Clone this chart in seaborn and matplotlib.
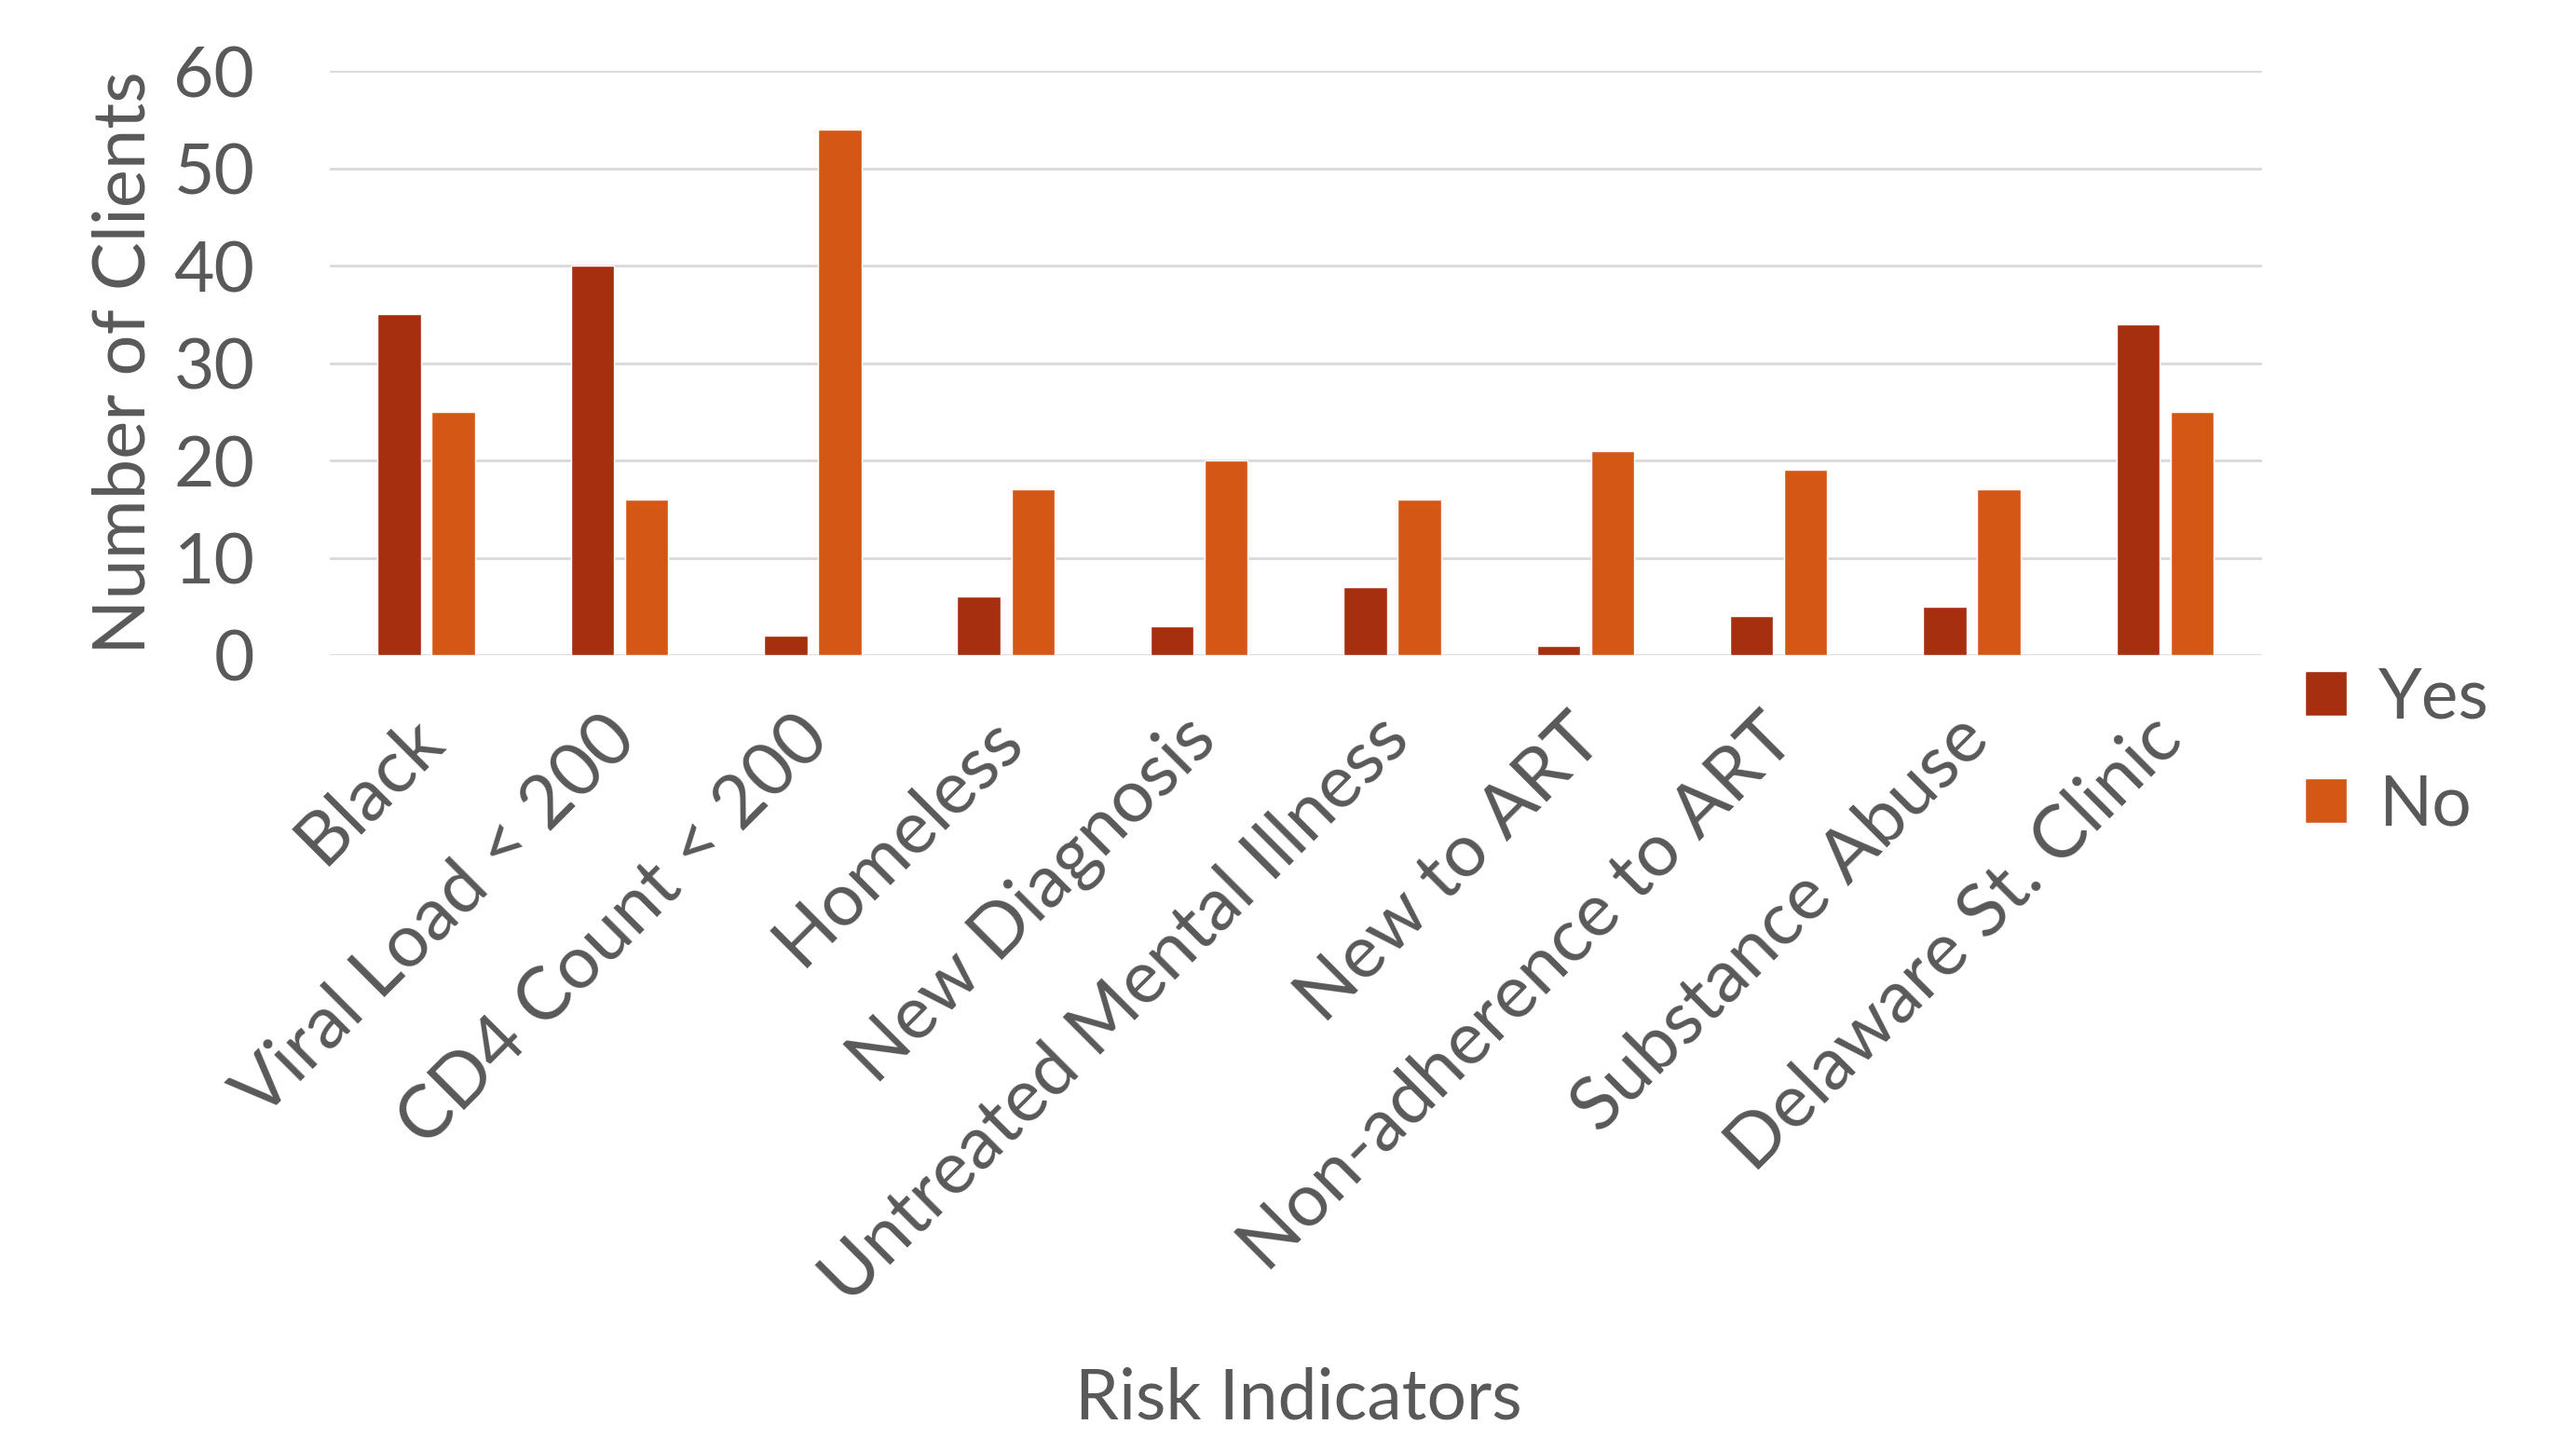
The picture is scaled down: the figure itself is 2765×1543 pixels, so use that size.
import matplotlib
matplotlib.use("Agg")
import matplotlib.pyplot as plt
import matplotlib.transforms as mtrans
import seaborn as sns
import pandas as pd

# risk indicator counts
categories = ["Black", "Viral Load < 200", "CD4 Count < 200", "Homeless", "New Diagnosis",
              "Untreated Mental Illness", "New to ART", "Non-adherence to ART",
              "Substance Abuse", "Delaware St. Clinic"]
yes_counts = [35, 40, 2, 6, 3, 7, 1, 4, 5, 34]
no_counts = [25, 16, 54, 17, 20, 16, 21, 19, 17, 25]
groups = ["Yes", "No"]

df = pd.DataFrame({
    "Risk": categories * 2,
    "Count": yes_counts + no_counts,
    "Group": ["Yes"] * len(categories) + ["No"] * len(categories),
})

sns.set_style("white")
plt.rcParams["font.family"] = ["Lato", "DejaVu Sans"]
grey = "#595959"

fig = plt.figure(figsize=(27.65, 15.43), dpi=100)
ax = fig.add_axes([0.128, 0.5444, 0.75, 0.4063])

sns.barplot(data=df, x="Risk", y="Count", hue="Group", hue_order=groups,
            palette=["#A62F10", "#D55716"], width=0.56, gap=0.2,
            saturation=1, ax=ax, legend=True)

ax.set_ylim(0, 60)
ax.set_xlim(-0.5, len(categories) - 0.5)
ax.set_yticks(range(0, 61, 10))
ax.grid(axis="y", color="#D9D9D9", linewidth=2)
ax.set_axisbelow(True)
for s in ax.spines.values():
    s.set_visible(False)

ax.tick_params(axis="y", length=0, pad=58, labelsize=54, labelcolor=grey)
ax.tick_params(axis="x", length=0, pad=38, labelsize=57, labelcolor=grey)
# nudge the slanted labels a little to the left
shift = mtrans.ScaledTranslation(-0.2, 0, fig.dpi_scale_trans)
for lbl in ax.get_xticklabels():
    lbl.set_rotation(45)
    lbl.set_ha("right")
    lbl.set_rotation_mode("anchor")
    lbl.set_transform(lbl.get_transform() + shift)

ax.set_ylabel("Number of Clients", fontsize=56, color=grey, labelpad=12)
ax.set_xlabel("")
fig.text(0.504, 0.027, "Risk Indicators", fontsize=54, color=grey, ha="center", va="center")

leg = ax.legend(loc="center left", bbox_to_anchor=(0.99, -0.165), frameon=False,
                fontsize=54, labelcolor=grey, handlelength=0.6, handleheight=0.6,
                handletextpad=0.45, labelspacing=0.62)

fig.savefig("out.png", dpi=100)
